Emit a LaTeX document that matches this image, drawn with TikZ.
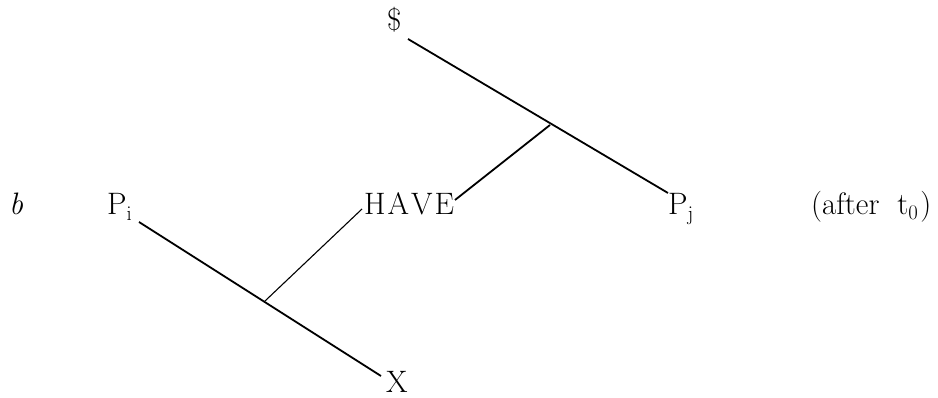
\documentclass[tikz,border=0pt]{standalone}
\begin{document}
\begin{tikzpicture}[x=1pt,y=-1pt,
  lbl/.style={anchor=base west,inner sep=0pt,font=\fontsize{31}{37}\selectfont},
  thick line/.style={line width=1.8pt},
  thin line/.style={line width=1.1pt}]
\useasboundingbox (0,0) rectangle (938,398);
% labels
\node[lbl] (dollar) at (387,31) {\$};
\node[lbl] (b) at (9,215) {\textit{b}};
\node[lbl] (pi) at (107,215) {P$_{\mathrm{i}}$};
\node[lbl] (have) at (364,215) {H\kern2pt A\kern2pt V\kern2pt E};
\node[lbl] (pj) at (668,215) {P$_{\mathrm{j}}$};
\node[lbl] (after) at (811,215) {(after\hspace{18pt}t$_0$\kern2pt)};
\node[lbl] (x) at (386,392) {X};
% line end points
\coordinate (s1) at (408,39);
\coordinate (s2) at (668,193);
\coordinate (j1) at (550,125);
\coordinate (h2) at (455,200);
\coordinate (p1) at (139,222);
\coordinate (p2) at (381,376);
\coordinate (j2) at (265,301);
\coordinate (h1) at (362,209);
% connectors
\draw[thick line] (s1) -- (s2);
\draw[thick line] (j1) -- (h2);
\draw[thick line] (p1) -- (p2);
\draw[thin line] (j2) -- (h1);
\end{tikzpicture}
\end{document}
